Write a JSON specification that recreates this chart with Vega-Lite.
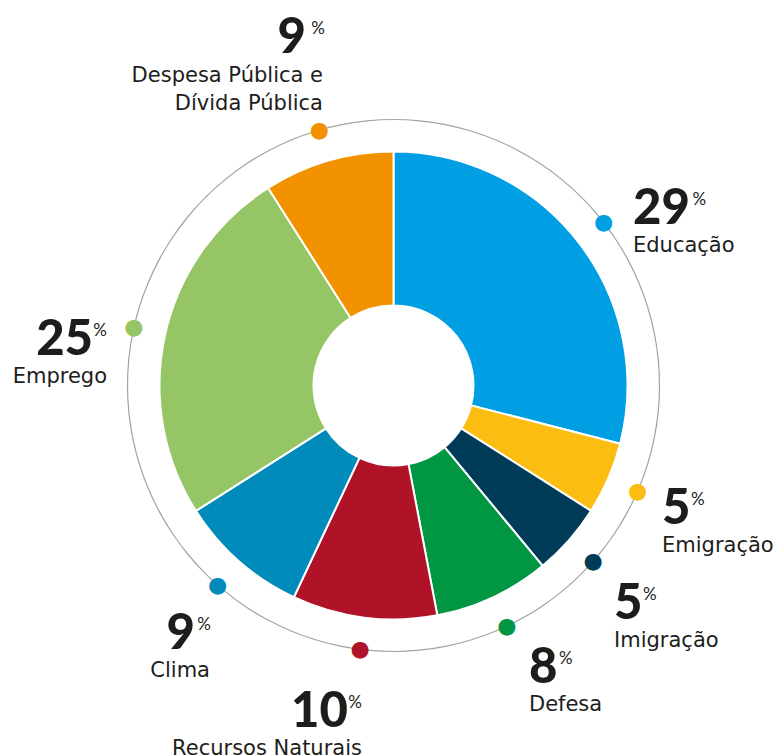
{
  "$schema": "https://vega.github.io/schema/vega-lite/v6.json",
  "width": 767,
  "height": 741,
  "autosize": "none",
  "padding": {"left": 10, "top": 15, "right": 0, "bottom": 0},
  "background": "white",
  "config": {"view": {"stroke": null}},
  "datasets": {
    "temas": [
      {"ordem": 1, "categoria": "Educação", "rotulo": "Educação", "valor": 29},
      {"ordem": 2, "categoria": "Emigração", "rotulo": "Emigração", "valor": 5},
      {"ordem": 3, "categoria": "Imigração", "rotulo": "Imigração", "valor": 5},
      {"ordem": 4, "categoria": "Defesa", "rotulo": "Defesa", "valor": 8},
      {"ordem": 5, "categoria": "Recursos Naturais", "rotulo": "Recursos Naturais", "valor": 10},
      {"ordem": 6, "categoria": "Clima", "rotulo": "Clima", "valor": 9},
      {"ordem": 7, "categoria": "Emprego", "rotulo": "Emprego", "valor": 25},
      {"ordem": 8, "categoria": "Despesa Pública e Dívida Pública", "rotulo": "Despesa Pública e\nDívida Pública", "valor": 9}
    ],
    "anel": [{"elemento": "contorno"}]
  },
  "layer": [
    {
      "data": {"name": "anel"},
      "mark": {"type": "arc", "theta": 0, "theta2": 6.2832, "radius": 266.6, "radius2": 265.4, "fill": "#a3a3a2"},
      "encoding": {}
    },
    {
      "data": {"name": "temas"},
      "mark": {"type": "arc", "radius": 234, "radius2": 80, "stroke": "white", "strokeWidth": 2},
      "encoding": {
        "theta": {"field": "valor", "type": "quantitative", "stack": true, "scale": {"domain": [0, 100]}},
        "order": {"field": "ordem", "type": "quantitative", "sort": "ascending"},
        "color": {
          "field": "categoria", "type": "nominal", "legend": null,
          "scale": {
            "domain": ["Educação", "Emigração", "Imigração", "Defesa", "Recursos Naturais", "Clima", "Emprego", "Despesa Pública e Dívida Pública"],
            "range": ["#009FE3", "#FCBD13", "#003C58", "#009642", "#B01328", "#008BBA", "#95C565", "#F29200"]
          }
        }
      }
    },
    {
      "data": {"name": "temas"},
      "mark": {"type": "text", "text": "●", "radius": 266, "font": "DejaVu Sans", "fontSize": 22, "align": "center", "baseline": "middle"},
      "encoding": {
        "theta": {"field": "valor", "type": "quantitative", "stack": true, "scale": {"domain": [0, 100]}},
        "order": {"field": "ordem", "type": "quantitative", "sort": "ascending"},
        "color": {"field": "categoria", "type": "nominal", "legend": null}
      }
    },
    {
      "data": {"name": "temas"},
      "mark": {
        "type": "text", "radius": 266, "font": "Lato", "fontSize": 49, "fontWeight": 900, "color": "#1d1d1b",
        "baseline": "alphabetic",
        "align": {"expr": "datum.ordem <= 4 ? 'left' : 'right'"},
        "dx": {"expr": "[29.3,24.4,21,22.2,-12.2,-22.6,-40.9,-13.3][datum.ordem-1]"},
        "dy": {"expr": "[1.5,32.9,57.1,56.8,77.6,64,27.5,-77.1][datum.ordem-1]"}
      },
      "encoding": {
        "theta": {"field": "valor", "type": "quantitative", "stack": true, "scale": {"domain": [0, 100]}},
        "order": {"field": "ordem", "type": "quantitative", "sort": "ascending"},
        "detail": {"field": "categoria", "type": "nominal"},
        "text": {"field": "valor", "type": "quantitative", "format": "d"}
      }
    },
    {
      "data": {"name": "temas"},
      "mark": {
        "type": "text", "text": "%", "radius": 266, "font": "Lato", "fontSize": 17, "fontWeight": 400, "color": "#1d1d1b",
        "baseline": "alphabetic",
        "align": {"expr": "datum.ordem <= 4 ? 'left' : 'right'"},
        "dx": {"expr": "[88.8,53.4,50,52.2,1.8,-6.6,-26.9,5.7][datum.ordem-1]"},
        "dy": {"expr": "[-17.5,13.9,38.1,37.8,58.6,45,8.5,-96.1][datum.ordem-1]"}
      },
      "encoding": {
        "theta": {"field": "valor", "type": "quantitative", "stack": true, "scale": {"domain": [0, 100]}},
        "order": {"field": "ordem", "type": "quantitative", "sort": "ascending"},
        "detail": {"field": "categoria", "type": "nominal"}
      }
    },
    {
      "data": {"name": "temas"},
      "mark": {
        "type": "text", "radius": 266, "font": "DejaVu Sans", "fontSize": 21, "color": "#1d1d1b",
        "baseline": "alphabetic", "lineBreak": "\n", "lineHeight": 28,
        "align": {"expr": "datum.ordem <= 4 ? 'left' : 'right'"},
        "dx": {"expr": "[29.3,24.4,21,22.2,1.8,-7.6,-26.9,3.7][datum.ordem-1]"},
        "dy": {"expr": "[29.5,60.9,85.1,84.8,105.6,92,55.5,-48.1][datum.ordem-1]"}
      },
      "encoding": {
        "theta": {"field": "valor", "type": "quantitative", "stack": true, "scale": {"domain": [0, 100]}},
        "order": {"field": "ordem", "type": "quantitative", "sort": "ascending"},
        "detail": {"field": "categoria", "type": "nominal"},
        "text": {"field": "rotulo", "type": "nominal"}
      }
    }
  ]
}
